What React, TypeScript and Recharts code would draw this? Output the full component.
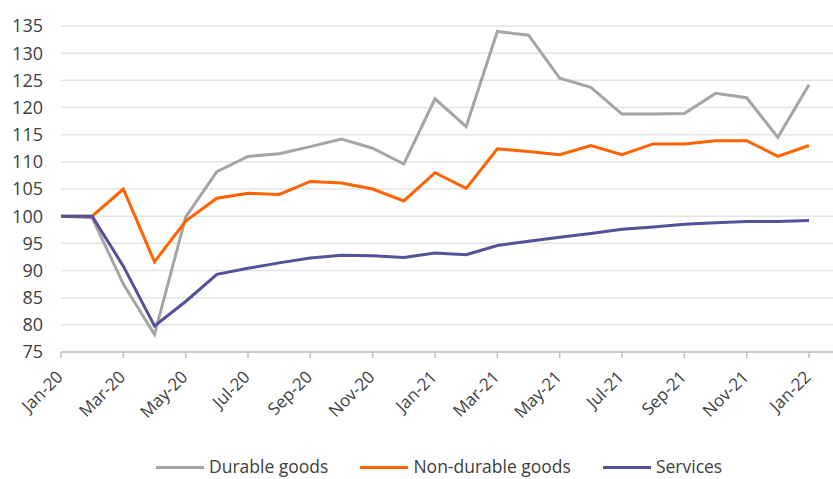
import React from "react"
import { LineChart, Line, XAxis, YAxis, CartesianGrid, Legend } from "recharts"

const months = [
  "Jan-20", "Feb-20", "Mar-20", "Apr-20", "May-20", "Jun-20", "Jul-20", "Aug-20", "Sep-20", "Oct-20", "Nov-20", "Dec-20",
  "Jan-21", "Feb-21", "Mar-21", "Apr-21", "May-21", "Jun-21", "Jul-21", "Aug-21", "Sep-21", "Oct-21", "Nov-21", "Dec-21",
  "Jan-22",
]

const durable = [
  100, 99.7, 87.5, 78.2, 99.8, 108.2, 111.0, 111.5, 112.8, 114.2, 112.5, 109.6,
  121.6, 116.5, 134.0, 133.3, 125.4, 123.7, 118.8, 118.8, 118.9, 122.6, 121.8, 114.5,
  124.2,
]

const nonDurable = [
  100, 100, 105.0, 91.6, 99.1, 103.3, 104.2, 104.0, 106.4, 106.1, 105.0, 102.8,
  108.0, 105.1, 112.4, 111.9, 111.3, 113.0, 111.3, 113.3, 113.3, 113.9, 113.9, 111.0,
  113.0,
]

const services = [
  100, 100, 90.8, 79.8, 84.3, 89.3, 90.4, 91.4, 92.3, 92.8, 92.7, 92.4,
  93.2, 92.9, 94.6, 95.4, 96.1, 96.8, 97.6, 98.0, 98.5, 98.8, 99.0, 99.0,
  99.2,
]

const yTicks = [75, 80, 85, 90, 95, 100, 105, 110, 115, 120, 125, 130, 135]

const data = months.map((m, i) => ({
  month: m,
  durable: durable[i],
  nonDurable: nonDurable[i],
  services: services[i],
}))

const FONT = "'Open Sans', sans-serif"
const TEXT = "#404040"

const series = [
  { key: "durable", name: "Durable goods", color: "#a5a5a5" },
  { key: "nonDurable", name: "Non-durable goods", color: "#ff6200" },
  { key: "services", name: "Services", color: "#525199" },
]

function MonthTick(props: any) {
  const { x, y, payload } = props
  const ax = x + 3
  const ay = y + 18
  return (
    <text
      x={ax}
      y={ay}
      textAnchor="end"
      transform={`rotate(-45, ${ax}, ${ay})`}
      fill={TEXT}
      fontSize={17}
      fontFamily={FONT}
    >
      {payload.value}
    </text>
  )
}

function LegendRow() {
  return (
    <div
      style={{
        display: "flex",
        alignItems: "center",
        height: 30,
        paddingTop: 8,
        paddingLeft: 156,
        boxSizing: "border-box",
        fontFamily: FONT,
        fontSize: 17.5,
        lineHeight: "20px",
        color: TEXT,
        whiteSpace: "nowrap",
      }}
    >
      {series.map((s) => (
        <div key={s.key} style={{ display: "flex", alignItems: "center", marginRight: 32 }}>
          <div style={{ width: 48, height: 3, background: s.color, marginRight: 5, marginTop: 2 }} />
          <span>{s.name}</span>
        </div>
      ))}
    </div>
  )
}

export default function App() {
  return (
    <div style={{ position: "absolute", left: 0, top: 0, background: "#fff" }}>
      <LineChart width={833} height={479} data={data} margin={{ top: 26, right: 0, bottom: 2, left: 0 }}>
        <CartesianGrid vertical={false} stroke="#e4e4e4" strokeWidth={1.5} />
        <XAxis
          dataKey="month"
          interval={1}
          tick={<MonthTick />}
          height={95}
          padding={{ left: 0, right: 24 }}
          axisLine={{ stroke: "#bfbfbf", strokeWidth: 1.5 }}
          tickLine={{ stroke: "#bfbfbf", strokeWidth: 1.5 }}
          tickSize={6}
        />
        <YAxis
          domain={[75, 135]}
          ticks={yTicks}
          width={61}
          axisLine={false}
          tickLine={false}
          tickSize={0}
          tickMargin={18}
          tick={{ fill: TEXT, fontSize: 18, fontFamily: FONT }}
        />
        <Legend verticalAlign="bottom" height={30} content={() => <LegendRow />} />
        {series.map((s) => (
          <Line
            key={s.key}
            type="linear"
            dataKey={s.key}
            name={s.name}
            stroke={s.color}
            strokeWidth={3}
            dot={false}
            isAnimationActive={false}
          />
        ))}
      </LineChart>
    </div>
  )
}
